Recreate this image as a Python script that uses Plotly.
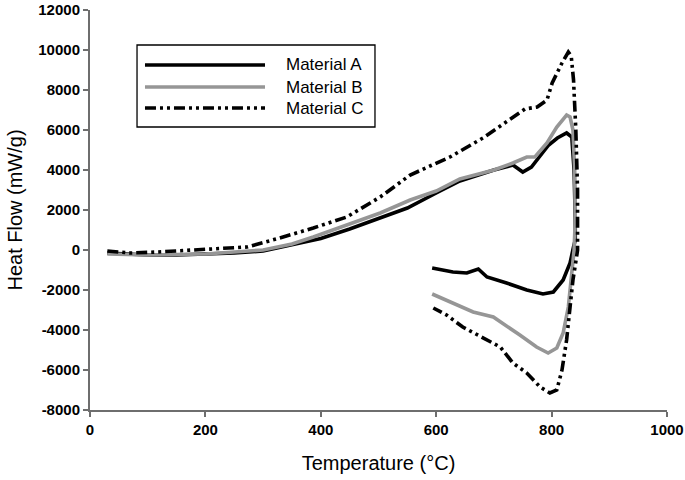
import plotly.graph_objects as go

# ---- data ----
temp_a = [30, 60, 100, 150, 200, 250, 300, 350, 400, 450, 500, 550, 600, 641, 700, 733, 750, 765,
          780, 795, 810, 826, 835, 839, 841, 841, 838, 832, 820, 803, 785, 757, 722, 688, 673, 653, 629, 593]
flow_a = [-150, -200, -250, -250, -200, -150, -50, 250, 580, 1050, 1570, 2100, 2850, 3450, 4000, 4250, 3900, 4150,
          4700, 5250, 5600, 5850, 5650, 4000, 1500, 500, 150, -650, -1500, -2100, -2200, -2000, -1650, -1350, -950, -1150, -1100, -900]

temp_b = [30, 100, 200, 300, 350, 387, 445, 503, 555, 600, 641, 700, 733, 757, 771, 792, 809, 826, 832, 837,
          840, 841, 839, 835, 829, 820, 809, 794, 774, 745, 716, 699, 664, 629, 593]
flow_b = [-200, -250, -200, 0, 300, 650, 1250, 1850, 2500, 2950, 3550, 4000, 4350, 4650, 4650, 5350, 6150, 6750, 6650, 6000,
          4000, 1500, 0, -1150, -2850, -4150, -4900, -5150, -4850, -4250, -3650, -3350, -3100, -2650, -2200]

temp_c = [30, 70, 116, 185, 272, 329, 387, 445, 503, 555, 624, 681, 733, 754, 775, 792, 801, 809, 818, 829,
          834, 838, 842, 845, 845, 843, 840, 837, 832, 826, 818, 809, 797, 780, 757, 733, 711, 681, 646, 618, 595]
flow_c = [-50, -150, -100, 0, 150, 600, 1100, 1650, 2650, 3750, 4650, 5600, 6600, 7050, 7150, 7500, 8350, 8850, 9350, 9900,
          9700, 8500, 6000, 3000, 0, -400, -850, -1500, -2850, -4500, -6000, -7000, -7150, -6850, -6150, -5650, -4850, -4400, -3850, -3250, -2900]

names = ["Material A", "Material B", "Material C"]
colors = ["black", "rgb(150,150,150)", "black"]
dashes = ["solid", "solid", "11px,4px,3px,4px,3px,4px"]

x_ticks = [0, 200, 400, 600, 800, 1000]
y_ticks = [-8000, -6000, -4000, -2000, 0, 2000, 4000, 6000, 8000, 10000, 12000]

FONT = "Liberation Sans, Arial, sans-serif"

fig = go.Figure()
for t, f, n, c, d in zip([temp_a, temp_b, temp_c], [flow_a, flow_b, flow_c], names, colors, dashes):
    fig.add_trace(go.Scatter(x=t, y=f, mode="lines", name=n, showlegend=False,
                             line=dict(color=c, width=3.6, dash=d)))

# custom legend box (long line samples, like the reference)
shapes = [dict(type="rect", xref="paper", yref="paper", x0=0.0815, x1=0.4939, y0=0.7075, y1=0.9125,
               line=dict(color="black", width=1.3), fillcolor="white", layer="below")]
annotations = []
rows = [0.8625, 0.8075, 0.755]
for n, c, d, yy in zip(names, colors, dashes, rows):
    shapes.append(dict(type="line", xref="paper", yref="paper", x0=0.0953, x1=0.3033, y0=yy, y1=yy,
                       line=dict(color=c, width=3.6, dash=d)))
    annotations.append(dict(text=n, xref="paper", yref="paper", x=0.336, y=yy, xanchor="left", yanchor="middle",
                            showarrow=False, font=dict(family=FONT, size=17, color="black")))

fig.update_layout(
    width=685, height=480,
    margin=dict(l=90, r=18, t=10, b=70),
    plot_bgcolor="white", paper_bgcolor="white",
    shapes=shapes, annotations=annotations,
    font=dict(family=FONT, color="black"),
    xaxis=dict(range=[0, 1000], tickvals=x_ticks, ticktext=[str(v) for v in x_ticks],
               showgrid=False, zeroline=False, showline=True, linecolor="rgb(110,110,110)", linewidth=2,
               ticks="outside", ticklen=5, tickwidth=1.5, tickcolor="rgb(110,110,110)",
               tickfont=dict(family=FONT, size=15, color="black", weight="bold"),
               ticklabeloverflow="allow",
               title=dict(text="Temperature (°C)", font=dict(family=FONT, size=20, color="black"), standoff=19),
               automargin=False),
    yaxis=dict(range=[-8000, 12000], tickvals=y_ticks, ticktext=[str(v) for v in y_ticks],
               showgrid=False, zeroline=False, showline=True, linecolor="rgb(110,110,110)", linewidth=2,
               ticks="outside", ticklen=5, tickwidth=1.5, tickcolor="rgb(110,110,110)",
               tickfont=dict(family=FONT, size=15, color="black", weight="bold"),
               ticklabeloverflow="allow",
               title=dict(text="Heat Flow (mW/g)", font=dict(family=FONT, size=20, color="black"), standoff=10),
               automargin=False),
)

# remove the default 8px page margin so the figure fills the 685x480 window exactly
fig.write_html("out.html", config={"displayModeBar": False},
               post_script="document.body.style.margin='0px';document.body.style.overflow='hidden';")
